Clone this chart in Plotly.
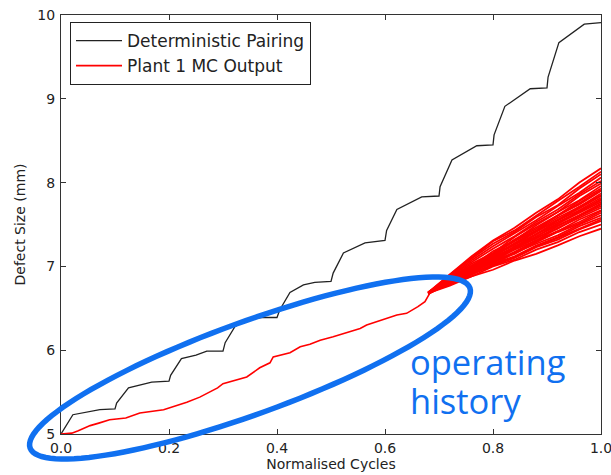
import numpy as np
import plotly.graph_objects as go

# ---------------- data ----------------
det_x = [0.0, 0.022, 0.072, 0.1, 0.103, 0.125, 0.168, 0.2, 0.203, 0.223, 0.25, 0.27, 0.3,
         0.304, 0.322, 0.344, 0.372, 0.4, 0.405, 0.424, 0.449, 0.47, 0.5, 0.504, 0.523,
         0.563, 0.6, 0.603, 0.622, 0.668, 0.7, 0.702, 0.724, 0.77, 0.8, 0.802, 0.822,
         0.869, 0.9, 0.902, 0.922, 0.969, 1.0]
det_y = [5.0, 5.23, 5.29, 5.30, 5.37, 5.55, 5.62, 5.63, 5.70, 5.90, 5.94, 5.99, 5.99,
         6.09, 6.28, 6.37, 6.39, 6.39, 6.48, 6.69, 6.78, 6.81, 6.82, 6.92, 7.16,
         7.28, 7.31, 7.43, 7.68, 7.83, 7.84, 7.95, 8.27, 8.44, 8.45, 8.57, 8.91,
         9.12, 9.13, 9.26, 9.67, 9.89, 9.91]

hist_x = [0.0, 0.02, 0.032, 0.054, 0.07, 0.09, 0.12, 0.146, 0.19, 0.21, 0.233, 0.257,
          0.29, 0.3, 0.331, 0.344, 0.368, 0.387, 0.393, 0.424, 0.443, 0.461, 0.48,
          0.504, 0.554, 0.566, 0.622, 0.64, 0.661, 0.674, 0.683]
hist_y = [5.0, 5.01, 5.04, 5.10, 5.13, 5.17, 5.19, 5.25, 5.29, 5.33, 5.38, 5.44,
          5.55, 5.60, 5.66, 5.68, 5.79, 5.85, 5.92, 5.97, 6.04, 6.07, 6.12,
          6.16, 6.26, 6.30, 6.42, 6.44, 6.52, 6.58, 6.68]

mc_x = [0.68, 0.72, 0.76, 0.80, 0.84, 0.88, 0.92, 0.96, 1.0]
mc_runs = [
    [6.68, 6.77, 6.88, 6.96, 7.07, 7.15, 7.25, 7.36, 7.45],
    [6.68, 6.79, 6.88, 7.00, 7.08, 7.20, 7.29, 7.41, 7.50],
    [6.69, 6.78, 6.91, 7.01, 7.10, 7.23, 7.32, 7.44, 7.54],
    [6.68, 6.80, 6.90, 7.02, 7.11, 7.24, 7.34, 7.45, 7.56],
    [6.67, 6.80, 6.90, 7.03, 7.12, 7.25, 7.35, 7.48, 7.58],
    [6.68, 6.81, 6.92, 7.02, 7.16, 7.27, 7.37, 7.50, 7.61],
    [6.69, 6.79, 6.93, 7.05, 7.15, 7.29, 7.41, 7.51, 7.64],
    [6.69, 6.80, 6.94, 7.04, 7.17, 7.29, 7.42, 7.53, 7.66],
    [6.68, 6.81, 6.92, 7.06, 7.17, 7.31, 7.42, 7.56, 7.67],
    [6.67, 6.82, 6.93, 7.07, 7.20, 7.31, 7.46, 7.58, 7.70],
    [6.68, 6.80, 6.95, 7.06, 7.21, 7.34, 7.45, 7.60, 7.72],
    [6.68, 6.82, 6.95, 7.07, 7.22, 7.33, 7.48, 7.61, 7.74],
    [6.69, 6.82, 6.94, 7.09, 7.21, 7.36, 7.49, 7.61, 7.75],
    [6.68, 6.83, 6.96, 7.08, 7.24, 7.35, 7.51, 7.64, 7.77],
    [6.68, 6.81, 6.96, 7.10, 7.22, 7.38, 7.51, 7.66, 7.79],
    [6.67, 6.81, 6.97, 7.11, 7.23, 7.39, 7.53, 7.65, 7.80],
    [6.68, 6.83, 6.96, 7.12, 7.26, 7.38, 7.55, 7.67, 7.82],
    [6.69, 6.83, 6.97, 7.13, 7.26, 7.41, 7.56, 7.69, 7.84],
    [6.69, 6.84, 6.98, 7.11, 7.28, 7.42, 7.55, 7.71, 7.85],
    [6.68, 6.82, 6.99, 7.14, 7.27, 7.43, 7.58, 7.71, 7.87],
    [6.68, 6.85, 6.98, 7.15, 7.30, 7.43, 7.61, 7.74, 7.90],
    [6.68, 6.84, 6.99, 7.14, 7.31, 7.45, 7.60, 7.76, 7.91],
    [6.69, 6.84, 7.01, 7.14, 7.32, 7.47, 7.61, 7.78, 7.93],
    [6.68, 6.86, 7.00, 7.18, 7.31, 7.49, 7.65, 7.79, 7.96],
    [6.68, 6.85, 7.03, 7.16, 7.35, 7.51, 7.65, 7.84, 7.99],
    [6.69, 6.87, 7.05, 7.21, 7.36, 7.53, 7.68, 7.86, 8.02],
    [6.68, 6.88, 7.07, 7.24, 7.39, 7.55, 7.72, 7.88, 8.06],
    [6.69, 6.89, 7.09, 7.27, 7.41, 7.59, 7.73, 7.93, 8.10],
    [6.68, 6.90, 7.10, 7.30, 7.43, 7.61, 7.78, 7.95, 8.13],
    [6.69, 6.91, 7.12, 7.31, 7.46, 7.64, 7.80, 8.00, 8.17],
]

x_ticks = [0.0, 0.2, 0.4, 0.6, 0.8, 1.0]
x_tick_labels = ["0.0", "0.2", "0.4", "0.6", "0.8", "1.0"]
y_ticks = [5, 6, 7, 8, 9, 10]
y_tick_labels = ["5", "6", "7", "8", "9", "10"]

# ---------------- layout constants ----------------
W, H = 611, 475
ML, MR, MT, MB = 61, 10, 15, 41
PW, PH = W - ML - MR, H - MT - MB
BLUE = "#1070F0"
FONT = "DejaVu Sans"

fig = go.Figure()

fig.add_trace(go.Scatter(x=det_x, y=det_y, mode="lines", name="Deterministic Pairing",
                         line=dict(color="#222222", width=1.3)))
fig.add_trace(go.Scatter(x=hist_x, y=hist_y, mode="lines", name="Plant 1 MC Output",
                         line=dict(color="#ff0000", width=1.6)))
for run in mc_runs:
    fig.add_trace(go.Scatter(x=mc_x, y=run, mode="lines", showlegend=False,
                             line=dict(color="#ff0000", width=1.8), hoverinfo="skip"))

# ellipse annotation (pixel geometry -> paper coords)
cx, cy, a, b, ang = 250.0, 368.0, 234.0, 46.0, np.deg2rad(20.0)
t = np.linspace(0, 2 * np.pi, 121)
px = cx + a * np.cos(t) * np.cos(ang) + b * np.sin(t) * np.sin(ang)
py = cy - a * np.cos(t) * np.sin(ang) + b * np.sin(t) * np.cos(ang)
ux = (px - ML) / PW
uy = (H - MB - py) / PH
path = "M " + " L ".join(f"{u:.5f},{v:.5f}" for u, v in zip(ux, uy)) + " Z"
fig.add_shape(type="path", path=path, xref="paper", yref="paper",
              line=dict(color=BLUE, width=5.5), layer="above")

for txt, ymid in (("operating", 361), ("history", 400)):
    fig.add_annotation(text=txt, xref="paper", yref="paper",
                       x=(408 - ML) / PW, y=(H - MB - ymid) / PH, xanchor="left", yanchor="middle",
                       align="left", showarrow=False,
                       font=dict(family="Open Sans", size=34.5, color=BLUE))

axis_common = dict(showline=True, linecolor="#333333", linewidth=1.2, mirror="ticks",
                   ticks="inside", ticklen=5, tickcolor="#333333", showgrid=False,
                   zeroline=False, ticklabeloverflow="allow", automargin=False,
                   tickfont=dict(family=FONT, size=14, color="#222222"))

fig.update_xaxes(range=[0, 1], tickvals=x_ticks, ticktext=x_tick_labels, ticklabelstandoff=1,
                 title=dict(text="Normalised Cycles", font=dict(family=FONT, size=14, color="#222222"),
                            standoff=3), **axis_common)
fig.update_yaxes(range=[5, 10], tickvals=y_ticks, ticktext=y_tick_labels, ticklabelstandoff=2,
                 title=dict(text="Defect Size (mm)", font=dict(family=FONT, size=14, color="#222222"),
                            standoff=8), **axis_common)

fig.update_layout(
    width=W, height=H, margin=dict(l=ML, r=MR, t=MT, b=MB, autoexpand=False),
    paper_bgcolor="white", plot_bgcolor="white",
    showlegend=True,
    legend=dict(x=(70 - ML) / PW, y=(H - MB - 22) / PH, xanchor="left", yanchor="top",
                bgcolor="white", bordercolor="#222222", borderwidth=1, tracegroupgap=0,
                font=dict(family=FONT, size=17, color="#222222"), itemwidth=46),
)

fig.write_html("out.html")
